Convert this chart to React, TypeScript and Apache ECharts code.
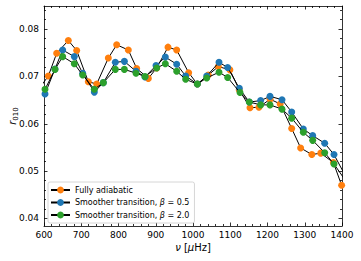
import React, { useEffect, useRef } from "react";
import * as echarts from "echarts";

const xTicks = [600, 700, 800, 900, 1000, 1100, 1200, 1300, 1400];
const yMajorTicks = [0.04, 0.05, 0.06, 0.07, 0.08];
const yMinorTicks = [0.042, 0.044, 0.046, 0.048, 0.052, 0.054, 0.056, 0.058, 0.062, 0.064, 0.066, 0.068, 0.072, 0.074, 0.076, 0.078, 0.082, 0.084];

const seriesNames = ["Fully adiabatic", "Smoother transition, β = 0.5", "Smoother transition, β = 2.0"];
const seriesColors = ["#ff7f0e", "#1f77b4", "#2ca02c"];

const nuAdiabatic = [580, 611.6, 634.0, 665.3, 687.7, 719.0, 741.4, 772.7, 795.1, 826.4, 848.8, 880.1, 902.5, 932.9, 956.2, 988.4, 1011.6, 1041, 1068, 1099, 1124, 1153, 1177, 1207, 1234, 1265, 1289, 1319, 1343, 1377, 1399];
const rAdiabatic = [0.0667, 0.0701, 0.0749, 0.0776, 0.0755, 0.0689, 0.0684, 0.0739, 0.0767, 0.0756, 0.0717, 0.0696, 0.0718, 0.0762, 0.0756, 0.0708, 0.0684, 0.0703, 0.0721, 0.0714, 0.0672, 0.0634, 0.0635, 0.0652, 0.0642, 0.0590, 0.0549, 0.0535, 0.0538, 0.0518, 0.0470];

const nuBeta05 = [575, 602.7, 629.5, 650.1, 681.4, 703.8, 735.1, 759.3, 791.5, 815.7, 847.0, 871.1, 900.7, 925.7, 956.2, 980.3, 1011.6, 1036.8, 1069.8, 1093, 1124.4, 1151.2, 1181.6, 1206.7, 1238.9, 1264.9, 1296.2, 1321.3, 1353.5, 1378.5, 1405];
const rBeta05 = [0.0640, 0.0663, 0.0716, 0.0756, 0.0742, 0.0707, 0.0667, 0.0687, 0.0730, 0.0732, 0.0711, 0.0699, 0.0723, 0.0741, 0.0726, 0.0701, 0.0684, 0.0701, 0.0730, 0.0719, 0.0675, 0.0646, 0.0649, 0.0658, 0.0651, 0.0625, 0.0589, 0.0575, 0.0559, 0.0535, 0.0496];

const nuBeta20 = [575, 602.7, 629.5, 650.1, 681.4, 703.8, 735.1, 759.3, 791.5, 815.7, 847.0, 871.1, 902.5, 925.7, 956.2, 980.3, 1011.6, 1036.8, 1069.8, 1093, 1126.2, 1151.2, 1181.6, 1206.7, 1238.9, 1264.9, 1296.2, 1321.3, 1353.5, 1378.5, 1405];
const rBeta20 = [0.0650, 0.0673, 0.0715, 0.0742, 0.0727, 0.0703, 0.0673, 0.0687, 0.0715, 0.0715, 0.0707, 0.0700, 0.0718, 0.0727, 0.0711, 0.0694, 0.0684, 0.0697, 0.0709, 0.0698, 0.0666, 0.0646, 0.0640, 0.0640, 0.0631, 0.0612, 0.0582, 0.0565, 0.0539, 0.0515, 0.0485];

const FONT = "DejaVu Sans";
const X_MIN = 600;
const X_MAX = 1400;
const Y_MIN = 0.0384;
const Y_MAX = 0.0849;

export default function App() {
  const ref = useRef<HTMLDivElement>(null);
  useEffect(() => {
    if (!ref.current) return;
    const chart = echarts.init(ref.current, null, { renderer: "svg" });
    const axisLine = { show: true, lineStyle: { color: "#000", width: 0.8 } };
    const tickStyle = { color: "#000", width: 0.8 };
    const gridRect = { left: 44, right: 19, top: 6, bottom: 35, containLabel: false, outerBoundsMode: "none" };
    const pairs = (xs: number[], ys: number[]) => xs.map((x, i) => [x, ys[i]]);
    const data = [pairs(nuAdiabatic, rAdiabatic), pairs(nuBeta05, rBeta05), pairs(nuBeta20, rBeta20)];
    const xBase = (pos: string, labels: boolean, gridIndex: number, show = true) => ({
      type: "value",
      gridIndex,
      show,
      position: pos,
      min: X_MIN,
      max: X_MAX,
      interval: xTicks[1] - xTicks[0],
      axisLine,
      axisTick: { show: true, inside: true, length: 3.5, lineStyle: tickStyle },
      minorTick: { show: true, splitNumber: 5, length: 2, lineStyle: tickStyle },
      splitLine: { show: false },
      axisLabel: {
        show: labels,
        fontFamily: FONT,
        fontSize: 9,
        color: "#000",
        margin: 4,
        formatter: (v: number) => String(v),
      },
    });
    const option: any = {
      animation: false,
      backgroundColor: "#fff",
      grid: [
        { ...gridRect },
        { ...gridRect },
      ],
      xAxis: [
        {
          ...xBase("bottom", true, 0),
          name: "{i|ν} [{i|μ}Hz]",
          nameLocation: "middle",
          nameGap: 16,
          nameMoveOverlap: false,
          nameTextStyle: {
            fontFamily: FONT,
            fontSize: 10,
            color: "#000",
            rich: { i: { fontFamily: FONT, fontSize: 10, fontStyle: "italic", color: "#000" } },
          },
        },
        xBase("top", false, 0),
        { type: "value", gridIndex: 1, min: X_MIN, max: X_MAX, show: false },
      ],
      yAxis: [
        {
          type: "value",
          gridIndex: 0,
          position: "left",
          min: Y_MIN,
          max: Y_MAX,
          axisLine,
          axisTick: { show: true, inside: true, length: 3.5, lineStyle: tickStyle, customValues: yMajorTicks },
          splitLine: { show: false },
          axisLabel: {
            fontFamily: FONT,
            fontSize: 9,
            color: "#000",
            margin: 5,
            customValues: yMajorTicks,
            formatter: (v: number) => v.toFixed(2),
          },
          name: "{r|r}{s|010}",
          nameLocation: "middle",
          nameRotate: 90,
          nameGap: 25,
          nameMoveOverlap: false,
          nameTextStyle: {
            color: "#000",
            rich: {
              r: { fontFamily: FONT, fontSize: 10, fontStyle: "italic", color: "#000", lineHeight: 14, verticalAlign: "middle" },
              s: { fontFamily: FONT, fontSize: 7, color: "#000", lineHeight: 14, verticalAlign: "bottom" },
            },
          },
        },
        {
          type: "value",
          gridIndex: 0,
          position: "right",
          min: Y_MIN,
          max: Y_MAX,
          axisLine,
          axisTick: { show: true, inside: true, length: 3.5, lineStyle: tickStyle, customValues: yMajorTicks },
          splitLine: { show: false },
          axisLabel: { show: false },
        },
        {
          type: "value",
          gridIndex: 1,
          position: "left",
          min: Y_MIN,
          max: Y_MAX,
          axisLine: { show: false },
          axisTick: { show: true, inside: true, length: 2, lineStyle: tickStyle, customValues: yMinorTicks },
          splitLine: { show: false },
          axisLabel: { show: false },
        },
        {
          type: "value",
          gridIndex: 1,
          position: "right",
          min: Y_MIN,
          max: Y_MAX,
          axisLine: { show: false },
          axisTick: { show: true, inside: true, length: 2, lineStyle: tickStyle, customValues: yMinorTicks },
          splitLine: { show: false },
          axisLabel: { show: false },
        },
      ],
      legend: {
        data: seriesNames,
        orient: "vertical",
        left: 48,
        top: 182,
        itemWidth: 19,
        itemHeight: 8.5,
        itemGap: 2.5,
        padding: [3, 5, 3, 2],
        backgroundColor: "rgba(255,255,255,0.8)",
        borderColor: "#cccccc",
        borderWidth: 0.8,
        borderRadius: 2,
        formatter: (name: string) => name.replace("β", "{b|β}"),
        textStyle: {
          fontFamily: FONT,
          fontSize: 8,
          color: "#000",
          lineHeight: 10,
          rich: { b: { fontFamily: FONT, fontSize: 8, fontStyle: "italic", color: "#000", lineHeight: 10 } },
        },
      },
      series: seriesNames.map((name, i) => ({
        type: "line",
        name,
        xAxisIndex: 0,
        yAxisIndex: 0,
        data: data[i],
        clip: true,
        symbol: "circle",
        symbolSize: 7,
        showAllSymbol: true,
        itemStyle: { color: seriesColors[i], borderWidth: 0 },
        lineStyle: { color: "#000", width: 1 },
        emphasis: { disabled: true },
        z: 2 + i,
      })),
    };
    chart.setOption(option);
    return () => chart.dispose();
  }, []);
  return <div ref={ref} style={{ position: "absolute", left: 0, top: 0, width: 361, height: 261 }} />;
}
